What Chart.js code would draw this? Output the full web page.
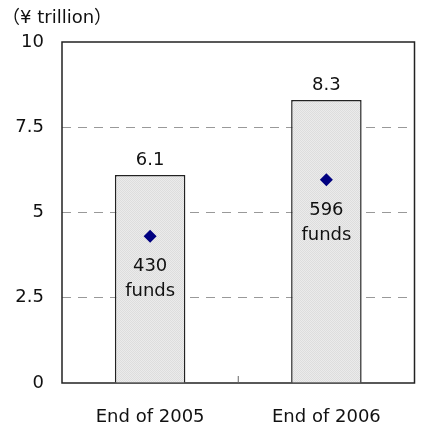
<!DOCTYPE html>
<html>
<head>
<meta charset="utf-8">
<script src="https://cdn.jsdelivr.net/npm/chart.js@4"></script>
<style>
  html, body { margin: 0; padding: 0; background: #fff; }
  #wrap { width: 421px; height: 427px; position: relative; }
</style>
</head>
<body>
<div id="wrap"><canvas id="myChart"></canvas></div>
<script>
const anni = ['End of 2005', 'End of 2006'];
const patrimonio = [6.1, 8.3];      // ¥ trillion
const fondi = [430, 596];           // number of funds
const tickY = [0, 2.5, 5, 7.5, 10];

const FONT = '"DejaVu Sans", "Noto Sans CJK JP", sans-serif';
const ctx = document.getElementById('myChart');

// fine grey texture for the bars
function creaTrama(){
    let c = document.createElement('canvas');
    c.width = 2; c.height = 2;
    let g = c.getContext('2d');
    g.fillStyle = '#ebebeb';
    g.fillRect(0, 0, 2, 2);
    g.fillStyle = '#dddddd';
    g.fillRect(0, 0, 1, 1);
    g.fillRect(1, 1, 1, 1);
    return g.createPattern(c, 'repeat');
}

const cornice = {
    id: 'cornice',
    beforeDatasetsDraw(chart){
        let a = chart.chartArea;
        let g = chart.ctx;
        g.save();
        g.strokeStyle = '#222';
        g.lineWidth = 1.5;
        g.strokeRect(a.left, a.top, a.right - a.left, a.bottom - a.top);
        // small inward tick between the two categories
        let x = chart.scales.x;
        let mid = (x.getPixelForValue(0) + x.getPixelForValue(1)) / 2;
        g.lineWidth = 1;
        g.strokeStyle = '#666';
        g.beginPath();
        g.moveTo(mid, a.bottom);
        g.lineTo(mid, a.bottom - 7);
        g.stroke();
        g.restore();
    },
    afterDraw(chart){
        let g = chart.ctx;
        g.save();
        g.fillStyle = '#111';
        g.font = '18px ' + FONT;
        g.textAlign = 'left';
        g.textBaseline = 'alphabetic';
        g.fillText('（¥ trillion）', 2, 23);

        g.textAlign = 'center';
        let barre = chart.getDatasetMeta(0).data;
        barre.forEach((b, i) => {
            g.fillText(patrimonio[i].toString(), b.x, b.y - 10);
        });
        let punti = chart.getDatasetMeta(1).data;
        punti.forEach((p, i) => {
            g.fillText(fondi[i].toString(), p.x, p.y + 35);
            g.fillText('funds', p.x, p.y + 60);
        });
        g.restore();
    }
};

function creaGrafico(){
    new Chart(ctx, {
        data: {
            labels: anni,
            datasets: [{
                type: 'bar',
                data: patrimonio,
                backgroundColor: creaTrama(),
                borderColor: '#222',
                borderWidth: 1.5,
                borderSkipped: 'bottom',
                barPercentage: 0.4,
                categoryPercentage: 1,
                order: 2
            }, {
                type: 'line',
                data: fondi,
                yAxisID: 'y2',
                showLine: false,
                pointStyle: 'rectRot',
                pointRadius: 6.5,
                backgroundColor: '#000080',
                borderColor: '#000080',
                borderWidth: 0,
                order: 1
            }]
        },
        options: {
            responsive: false,
            animation: false,
            devicePixelRatio: 1,
            layout: { padding: { left: 0, right: 3, top: 42, bottom: 0 } },
            plugins: {
                legend: { display: false },
                tooltip: { enabled: false }
            },
            scales: {
                x: {
                    offset: true,
                    grid: { display: false },
                    border: { display: false },
                    ticks: { color: '#111', font: { size: 18, family: FONT }, padding: 16 },
                    afterFit: s => { s.height = 44; }
                },
                y: {
                    min: 0, max: 10,
                    afterBuildTicks: s => { s.ticks = tickY.map(v => ({ value: v })); },
                    grid: {
                        color: c => (c.tick.value === 0 || c.tick.value === 10) ? 'rgba(0,0,0,0)' : '#999',
                        lineWidth: 1,
                        drawTicks: false
                    },
                    border: { display: false, dash: [9, 7] },
                    ticks: { color: '#111', font: { size: 18, family: FONT }, padding: 18 },
                    afterFit: s => { s.width = 62; }
                },
                y2: {
                    display: false,
                    min: 0, max: 1000
                }
            }
        },
        plugins: [cornice]
    });
}

ctx.width = 421;
ctx.height = 427;
creaGrafico();
</script>
</body>
</html>
